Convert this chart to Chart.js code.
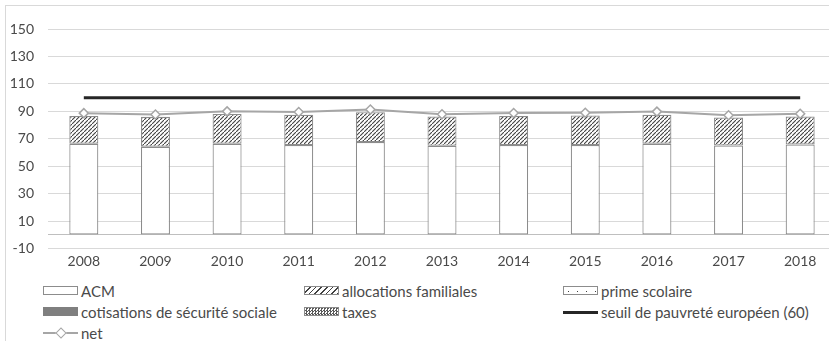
<!DOCTYPE html>
<html>
<head>
<meta charset="utf-8">
<script src="https://cdn.jsdelivr.net/npm/chart.js@4/dist/chart.umd.min.js"></script>
<style>
  html, body { margin:0; padding:0; background:#fff; overflow:hidden; width:829px; height:341px; }
  #frame { position:absolute; left:5px; top:5px; width:900px; height:400px; border-left:1px solid #d9d9d9; border-top:1px solid #d9d9d9; }
  #c { position:absolute; left:0; top:0; }
  .lg { position:absolute; font-family: Lato, "Open Sans", sans-serif; font-size:15px; color:#4a4a4a; line-height:16px; white-space:nowrap; }
  .sw { position:absolute; width:35px; height:9px; box-sizing:border-box; }
</style>
</head>
<body>
<div id="frame"></div>
<canvas id="c" width="850" height="271"></canvas>
<div id="legend"></div>
<script>
const years = ['2008','2009','2010','2011','2012','2013','2014','2015','2016','2017','2018'];
const acm = [66.4, 64.2, 66.4, 65.4, 67.6, 64.9, 65.4, 65.4, 66.4, 65.1, 65.9];
const allocations = [20.3, 21.8, 21.6, 22.1, 21.8, 21.3, 21.3, 21.6, 21.1, 20.4, 20.3];
const primeScolaire = [0, 0, 0, 0, 0, 0, 0, 0, 0, 0, 0];
const cotisations = [0, 0, 0, 0, 0, 0, 0, 0, 0, 0, 0];
const taxes = [0, 0, 0, 0, 0, 0, 0, 0, 0, 0, 0];
const seuil = [100, 100, 100, 100, 100, 100, 100, 100, 100, 100, 100];
const net = [88.7, 87.7, 90.0, 89.5, 91.3, 87.9, 88.8, 89.0, 89.8, 87.2, 88.2];
const yTicks = [-10, 0, 10, 30, 50, 70, 90, 110, 130, 150];
const legendLabels = ['ACM','allocations familiales','prime scolaire','cotisations de sécurité sociale','taxes','seuil de pauvreté européen (60)','net'];

function hatch() {
  const p = document.createElement('canvas'); p.width = 4; p.height = 4;
  const g = p.getContext('2d');
  g.fillStyle = '#fff'; g.fillRect(0,0,4,4);
  g.strokeStyle = '#404040'; g.lineWidth = 1.1;
  g.beginPath(); g.moveTo(-1,5); g.lineTo(5,-1); g.stroke();
  return g.createPattern(p, 'repeat');
}
function dots() {
  const p = document.createElement('canvas'); p.width = 8; p.height = 6;
  const g = p.getContext('2d');
  g.fillStyle = '#fff'; g.fillRect(0,0,8,6);
  g.fillStyle = '#404040'; g.fillRect(2,2,1,1);
  return g.createPattern(p, 'repeat');
}
function cross() {
  const p = document.createElement('canvas'); p.width = 4; p.height = 4;
  const g = p.getContext('2d');
  g.fillStyle = '#fff'; g.fillRect(0,0,4,4);
  g.fillStyle = '#595959'; g.fillRect(0,0,2,2); g.fillRect(2,2,2,2);
  return g.createPattern(p, 'repeat');
}
const ctx = document.getElementById('c').getContext('2d');
const barBase = { type:'bar', stack:'s', borderColor:'#8c8c8c', borderWidth:1.2, borderSkipped:false, order:2, categoryPercentage:1, barPercentage:0.405 };
new Chart(ctx, {
  data: {
    labels: years,
    datasets: [
      Object.assign({ label: legendLabels[0], data: acm, backgroundColor:'#ffffff' }, barBase),
      Object.assign({ label: legendLabels[1], data: allocations, backgroundColor: hatch() }, barBase),
      Object.assign({ label: legendLabels[2], data: primeScolaire, backgroundColor: dots() }, barBase),
      Object.assign({ label: legendLabels[3], data: cotisations, backgroundColor:'#7f7f7f' }, barBase),
      Object.assign({ label: legendLabels[4], data: taxes, backgroundColor: cross() }, barBase),
      { type:'line', label: legendLabels[5], data: seuil, stack:'seuil', borderColor:'#262626', borderWidth:3, pointRadius:0, order:1 },
      { type:'line', label: legendLabels[6], data: net, stack:'net', borderColor:'#a6a6a6', borderWidth:2, pointStyle:'rectRot', pointRadius:4.5, pointBackgroundColor:'#ffffff', pointBorderColor:'#a6a6a6', pointBorderWidth:1.5, order:0 }
    ]
  },
  options: {
    responsive:false, devicePixelRatio:1, animation:false,
    layout: { padding: { left:0, right:14, top:29, bottom:0 } },
    plugins: { legend:{ display:false }, tooltip:{ enabled:false } },
    scales: {
      x: {
        stacked:true,
        grid:{ display:false, drawTicks:false },
        border:{ display:false },
        ticks:{ color:'#4a4a4a', font:{ family:'Lato', size:14 }, padding:4 },
        afterFit: s => { s.height = 22; }
      },
      y: {
        stacked:true, min:-10, max:150,
        afterBuildTicks: s => { s.ticks = yTicks.map(v => ({ value:v })); },
        grid:{ color: c => (c.tick && c.tick.value === 0) ? '#bfbfbf' : '#d9d9d9', drawTicks:false, lineWidth:1 },
        border:{ display:false },
        ticks:{ color:'#4a4a4a', font:{ family:'Lato', size:14 }, padding:14, callback: v => v === 0 ? '' : String(v) },
        afterFit: s => { s.width = 48; }
      }
    }
  }
});

// HTML legend
const lg = document.getElementById('legend');
const items = [
  { x:43, y:286, label:legendLabels[0], sw:'background:#fff;border:1px solid #8c8c8c;' },
  { x:304, y:286, label:legendLabels[1], sw:'background:repeating-linear-gradient(-45deg,#404040 0 1px,#fff 1px 4px);border:1px solid #8c8c8c;' },
  { x:563, y:286, label:legendLabels[2], sw:'background:radial-gradient(circle,#404040 0.6px,transparent 0.9px) 0 0/9px 9px #fff;border:1px solid #8c8c8c;' },
  { x:43, y:307, label:legendLabels[3], sw:'background:#7f7f7f;' },
  { x:304, y:307, label:legendLabels[4], sw:'background:repeating-conic-gradient(#595959 0 25%,#fff 0 50%) 0 0/3px 3px;border:1px solid #8c8c8c;' },
  { x:563, y:307, label:legendLabels[5], line:'#262626', lw:3 },
  { x:43, y:328, label:legendLabels[6], line:'#a6a6a6', lw:2, marker:true }
];
items.forEach(it => {
  if (it.line) {
    const l = document.createElement('div');
    l.style.cssText = `position:absolute;left:${it.x}px;top:${it.y + 5 - it.lw/2}px;width:35px;height:${it.lw}px;background:${it.line};`;
    lg.appendChild(l);
    if (it.marker) {
      const m = document.createElement('div');
      m.style.cssText = `position:absolute;left:${it.x + 13.5}px;top:${it.y + 1}px;width:6px;height:6px;background:#fff;border:1.5px solid #a6a6a6;transform:rotate(45deg);`;
      lg.appendChild(m);
    }
  } else {
    const s = document.createElement('div');
    s.className = 'sw';
    s.style.cssText = `left:${it.x}px;top:${it.y}px;` + it.sw;
    lg.appendChild(s);
  }
  const t = document.createElement('div');
  t.className = 'lg';
  t.style.left = (it.x + 38) + 'px';
  t.style.top = (it.y - 3) + 'px';
  t.textContent = it.label;
  lg.appendChild(t);
});
</script>
</body>
</html>
